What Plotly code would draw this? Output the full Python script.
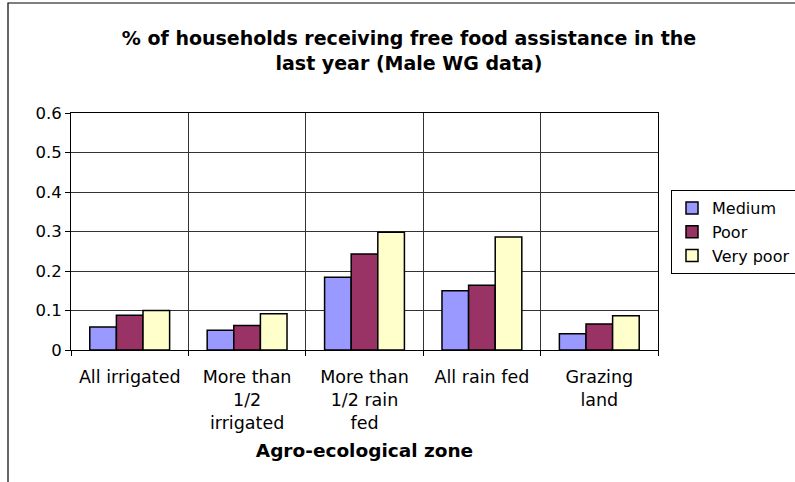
import plotly.graph_objects as go

categories = ["All irrigated", "More than<br>1/2<br>irrigated", "More than<br>1/2 rain<br>fed", "All rain fed", "Grazing<br>land"]
medium = [0.058, 0.050, 0.184, 0.150, 0.041]
poor = [0.088, 0.062, 0.243, 0.164, 0.066]
very_poor = [0.100, 0.092, 0.298, 0.286, 0.087]
y_ticks = [0, 0.1, 0.2, 0.3, 0.4, 0.5, 0.6]
y_tick_labels = ["0", "0.1", "0.2", "0.3", "0.4", "0.5", "0.6"]

FONT = "DejaVu Sans"
W, H = 795, 482
L, R, T, B = 71, 137, 113, 132
pw = W - L - R
ph = H - T - B

fig = go.Figure()
for name, vals, col in [("Medium", medium, "#9999FF"), ("Poor", poor, "#993366"), ("Very poor", very_poor, "#FFFFCC")]:
    fig.add_trace(go.Bar(x=categories, y=vals, name=name,
                         marker=dict(color=col, line=dict(color="black", width=1.5))))

# outer chart border (right and bottom edges fall outside the window)
fig.add_shape(type="rect", xref="paper", yref="paper",
              x0=(8 - L) / pw, x1=(900 - L) / pw,
              y0=-(560 - (H - B)) / ph, y1=(H - B - 3) / ph,
              line=dict(color="black", width=1.2), fillcolor="rgba(0,0,0,0)", layer="below")

fig.update_layout(
    width=W, height=H,
    margin=dict(l=L, r=R, t=T, b=B, autoexpand=False),
    paper_bgcolor="white", plot_bgcolor="white",
    barmode="group", bargap=0.32, bargroupgap=0,
    font=dict(family=FONT, size=16, color="black"),
    title=dict(text="<b>% of households receiving free food assistance in the<br>last year (Male WG data)</b>",
               x=409 / W, xanchor="center", y=1 - 45 / H, yanchor="middle",
               font=dict(family=FONT, size=19, color="black")),
    legend=dict(x=(671 - L) / pw, y=(350 - 190) / ph, xanchor="left", yanchor="top",
                bordercolor="black", borderwidth=1, bgcolor="white",
                font=dict(family=FONT, size=16), tracegroupgap=0, itemwidth=30),
    showlegend=True,
)
fig.update_xaxes(tickson="boundaries", showgrid=True, gridcolor="#333333", gridwidth=1,
                 showline=True, linecolor="black", linewidth=1, mirror=True,
                 ticks="outside", ticklen=5, tickcolor="black", ticklabelstandoff=11,
                 tickfont=dict(family=FONT, size=17.5),
                 title=dict(text="<b>Agro-ecological zone</b>", font=dict(family=FONT, size=18.5), standoff=12))
fig.update_yaxes(range=[0, 0.6], tickvals=y_ticks, ticktext=y_tick_labels,
                 showgrid=True, gridcolor="#333333", gridwidth=1,
                 showline=True, linecolor="black", linewidth=1, mirror=True,
                 ticks="outside", ticklen=5, tickcolor="black",
                 tickfont=dict(family=FONT, size=16.5), zeroline=False)

fig.write_html("out.html")
